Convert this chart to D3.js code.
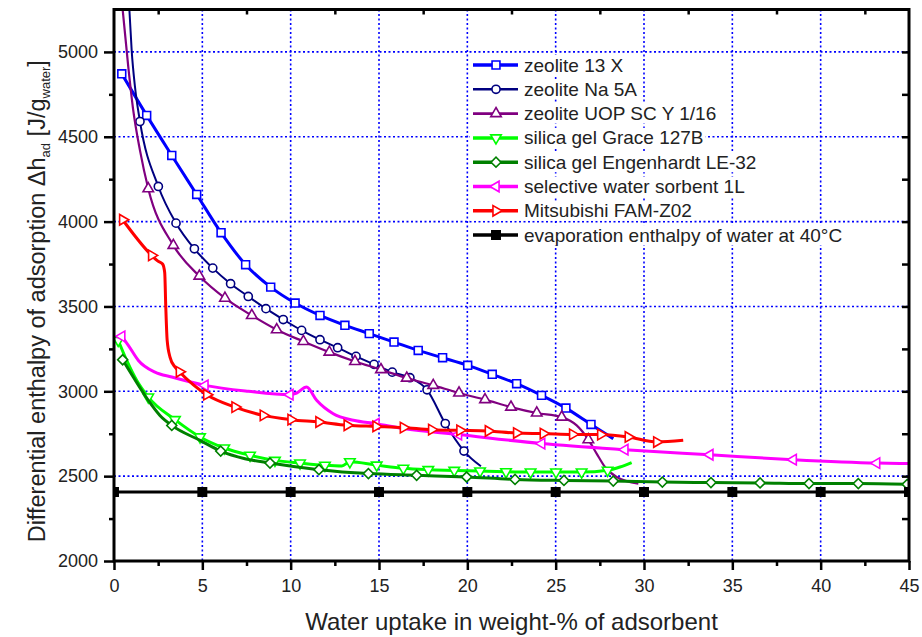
<!DOCTYPE html>
<html>
<head>
<meta charset="utf-8">
<script src="https://cdn.jsdelivr.net/npm/d3@7"></script>
<style>
  body { margin: 0; background: #fff; }
  svg { display: block; font-family: "Liberation Sans", Arial, sans-serif; }
</style>
</head>
<body>
<div id="chart"></div>
<script>
// values: [water uptake %, enthalpy J/g, 1 = drawn with a symbol]
const zeolite13X = [
  [0.44, 4871, 1], [1.85, 4626, 1], [3.27, 4390, 1], [4.68, 4160, 1], [6.06, 3935, 1],
  [7.45, 3746, 1], [8.87, 3614, 1], [10.25, 3520, 1], [11.66, 3447, 1], [13.07, 3389, 1],
  [14.45, 3340, 1], [15.85, 3290, 1], [17.22, 3241, 1], [18.6, 3198, 1], [20.02, 3153, 1],
  [21.41, 3100, 1], [22.79, 3045, 1], [24.2, 2976, 1], [25.58, 2901, 1], [27.0, 2805, 1],
  [28.26, 2721, 0]
];
const zeoliteNa5A = [
  [0.87, 5250, 0], [1.0, 5009, 0], [1.19, 4792, 0], [1.47, 4590, 1], [2.51, 4207, 1],
  [3.51, 3991, 1], [4.55, 3840, 1], [5.59, 3726, 1], [6.6, 3634, 1], [7.6, 3559, 1],
  [8.6, 3487, 1], [9.58, 3423, 1], [10.62, 3359, 1], [11.66, 3304, 1], [12.66, 3257, 1],
  [13.7, 3206, 1], [14.72, 3159, 1], [15.75, 3113, 1], [16.75, 3080, 1], [17.72, 3009, 1],
  [18.75, 2810, 1], [19.81, 2648, 1], [20.77, 2558, 0]
];
const zeoliteUOP = [
  [0.49, 5250, 0], [0.81, 4910, 0], [1.09, 4655, 0], [1.47, 4420, 0], [1.94, 4194, 1],
  [3.36, 3860, 1], [4.83, 3679, 1], [6.28, 3549, 1], [7.8, 3447, 1], [9.21, 3363, 1],
  [10.72, 3294, 1], [12.19, 3231, 1], [13.64, 3176, 1], [15.11, 3128, 1], [16.57, 3078, 1],
  [18.07, 3035, 1], [19.53, 2990, 1], [21.0, 2951, 1], [22.47, 2907, 1], [23.93, 2872, 1],
  [25.34, 2848, 1], [26.19, 2799, 0], [26.85, 2715, 1], [27.32, 2633, 0], [27.79, 2554, 0],
  [28.45, 2495, 0], [29.68, 2456, 0]
];
const grace127B = [
  [0.24, 3300, 1], [0.72, 3182, 0], [1.28, 3065, 0], [1.94, 2966, 1], [3.45, 2833, 1],
  [4.87, 2731, 1], [6.24, 2666, 1], [7.7, 2623, 1], [9.11, 2593, 1], [10.53, 2577, 1],
  [11.94, 2564, 1], [12.9, 2560, 0], [13.35, 2585, 1], [14.87, 2565, 1], [16.38, 2546, 1],
  [17.79, 2538, 1], [19.26, 2534, 1], [20.72, 2530, 1], [22.19, 2526, 1], [23.58, 2524, 1],
  [25.02, 2524, 1], [26.47, 2524, 1], [27.94, 2535, 1], [28.64, 2554, 0], [29.3, 2580, 0]
];
const engenhardtLE32 = [
  [0.49, 3186, 1], [1.09, 3084, 0], [1.94, 2947, 0], [2.6, 2858, 0], [3.27, 2799, 1],
  [4.87, 2711, 0], [6.04, 2648, 1], [7.41, 2603, 0], [8.83, 2577, 1], [11.6, 2538, 1],
  [14.4, 2515, 1], [17.13, 2505, 1], [19.96, 2495, 1], [22.7, 2481, 1], [25.47, 2475, 1],
  [28.26, 2471, 1], [31.04, 2465, 1], [33.79, 2462, 1], [36.57, 2460, 1], [39.34, 2456, 1],
  [42.13, 2456, 1], [44.9, 2452, 1]
];
const sorbent1L = [
  [0.44, 3324, 1], [0.81, 3271, 0], [1.38, 3182, 0], [2.32, 3113, 0], [3.27, 3084, 0],
  [5.15, 3035, 1], [7.6, 3000, 0], [9.96, 2980, 1], [10.34, 2990, 0], [10.9, 3025, 0],
  [11.47, 2947, 0], [12.41, 2868, 0], [13.55, 2829, 0], [14.83, 2809, 1], [16.38, 2780, 0],
  [19.5, 2745, 1], [24.21, 2692, 1], [28.92, 2656, 1], [33.73, 2626, 1], [38.45, 2597, 1],
  [43.17, 2577, 1], [45.0, 2574, 0]
];
const famZ02 = [
  [0.49, 4011, 1], [2.13, 3801, 1], [2.45, 3770, 0], [2.75, 3750, 0], [2.87, 3700, 0],
  [2.93, 3500, 0], [3.01, 3300, 0], [3.17, 3202, 0], [3.45, 3143, 0], [3.7, 3115, 1],
  [5.25, 2980, 1], [6.85, 2907, 1], [8.45, 2858, 1], [10.02, 2833, 1], [11.6, 2819, 1],
  [13.2, 2800, 1], [14.83, 2793, 1], [16.38, 2786, 1], [17.98, 2774, 1], [19.58, 2770, 1],
  [21.19, 2766, 1], [22.79, 2754, 1], [24.3, 2751, 1], [25.96, 2746, 1], [27.55, 2745, 1],
  [29.11, 2731, 1], [30.72, 2701, 1], [32.22, 2711, 0]
];
const evapEnthalpy = 2406; // J/g at 40°C
const evapX = [0, 5, 10, 15, 20, 25, 30, 35, 40, 45];

const xTicks = [0, 5, 10, 15, 20, 25, 30, 35, 40, 45];
const xMinorTicks = [2.5, 7.5, 12.5, 17.5, 22.5, 27.5, 32.5, 37.5, 42.5];
const yTicks = [2000, 2500, 3000, 3500, 4000, 4500, 5000];
const yMinorTicks = [2250, 2750, 3250, 3750, 4250, 4750];
const xGrid = [5, 10, 15, 20, 25, 30, 35, 40];
const yGrid = [2500, 3000, 3500, 4000, 4500, 5000];

const series = [
  { name: "zeolite 13 X", data: zeolite13X, color: "#0000ff", width: 3, symbol: "square" },
  { name: "zeolite Na 5A", data: zeoliteNa5A, color: "#000080", width: 2, symbol: "circle" },
  { name: "zeolite UOP SC Y 1/16", data: zeoliteUOP, color: "#800080", width: 2.2, symbol: "up" },
  { name: "silica gel Grace 127B", data: grace127B, color: "#00ff00", width: 3, symbol: "down" },
  { name: "silica gel Engenhardt LE-32", data: engenhardtLE32, color: "#008000", width: 3, symbol: "diamond" },
  { name: "selective water sorbent 1L", data: sorbent1L, color: "#ff00ff", width: 3, symbol: "left" },
  { name: "Mitsubishi FAM-Z02", data: famZ02, color: "#ff0000", width: 3, symbol: "right" }
];

const width = 922;
const height = 637;
const plotLeft = 114, plotRight = 909, plotTop = 9.5, plotBottom = 561;
const font = "'Liberation Sans', Arial, sans-serif";

const x = d3.scaleLinear().domain([0, 45]).range([plotLeft, plotRight]);
const y = d3.scaleLinear().domain([2000, 5250]).range([plotBottom, plotTop]);

function symbolPath(type) {
  if (type === "square") return { d: d3.symbol(d3.symbolSquare, 62)(), rot: 0 };
  if (type === "filled") return { d: d3.symbol(d3.symbolSquare, 70)(), rot: 0 };
  if (type === "circle") return { d: d3.symbol(d3.symbolCircle, 52)(), rot: 0 };
  if (type === "diamond") return { d: d3.symbol(d3.symbolSquare, 50)(), rot: 45 };
  const tri = d3.symbol(d3.symbolTriangle, 48)();
  const rot = { up: 0, down: 180, left: -90, right: 90 }[type];
  return { d: tri, rot: rot };
}

function drawMarker(g, type, cx, cy, color) {
  const s = symbolPath(type);
  g.append("path")
    .attr("d", s.d)
    .attr("transform", `translate(${cx},${cy}) rotate(${s.rot})`)
    .attr("fill", type === "filled" ? color : "#fff")
    .attr("stroke", color)
    .attr("stroke-width", 1.6);
}

const svg = d3.select("#chart").append("svg")
  .attr("width", width).attr("height", height)
  .attr("viewBox", `0 0 ${width} ${height}`);

svg.append("defs").append("clipPath").attr("id", "plot-clip")
  .append("rect").attr("x", plotLeft).attr("y", plotTop)
  .attr("width", plotRight - plotLeft).attr("height", plotBottom - plotTop);

// grid
const grid = svg.append("g").attr("stroke", "#0000ff").attr("stroke-width", 1.6)
  .attr("stroke-dasharray", "2,2.5");
grid.selectAll("line.gx").data(xGrid).enter().append("line")
  .attr("x1", d => x(d)).attr("x2", d => x(d)).attr("y1", plotTop).attr("y2", plotBottom);
grid.selectAll("line.gy").data(yGrid).enter().append("line")
  .attr("x1", plotLeft).attr("x2", plotRight).attr("y1", d => y(d)).attr("y2", d => y(d));

// curves
const plot = svg.append("g").attr("clip-path", "url(#plot-clip)");
const line = d3.line().x(d => x(d[0])).y(d => y(d[1])).curve(d3.curveMonotoneX);

series.forEach(s => {
  const g = plot.append("g");
  g.append("path").datum(s.data)
    .attr("d", line).attr("fill", "none")
    .attr("stroke", s.color).attr("stroke-width", s.width)
    .attr("stroke-linejoin", "round");
  s.data.filter(d => d[2]).forEach(d => drawMarker(g, s.symbol, x(d[0]), y(d[1]), s.color));
});

// evaporation enthalpy of water
const evap = plot.append("g");
evap.append("line")
  .attr("x1", x(0)).attr("x2", x(45)).attr("y1", y(evapEnthalpy)).attr("y2", y(evapEnthalpy))
  .attr("stroke", "#000").attr("stroke-width", 3);
evapX.forEach(v => drawMarker(evap, "filled", x(v), y(evapEnthalpy), "#000"));

// axes
function styleAxis(g) {
  g.select(".domain").remove();
  g.selectAll("line").attr("stroke", "#000").attr("stroke-width", 2.5);
  g.selectAll("text").attr("font-family", font).attr("font-size", 18).attr("fill", "#222");
}

svg.append("g").attr("transform", `translate(0,${plotBottom})`)
  .call(d3.axisBottom(x).tickValues(xTicks).tickSize(9).tickPadding(9).tickFormat(d3.format("d")))
  .call(styleAxis);
svg.append("g").attr("transform", `translate(0,${plotBottom})`)
  .call(d3.axisBottom(x).tickValues(xMinorTicks).tickSize(5).tickFormat(""))
  .call(styleAxis);
svg.append("g").attr("transform", `translate(0,${plotTop})`)
  .call(d3.axisBottom(x).tickValues(xMinorTicks).tickSize(5).tickFormat(""))
  .call(styleAxis);

svg.append("g").attr("transform", `translate(${plotLeft},0)`)
  .call(d3.axisLeft(y).tickValues(yTicks).tickSize(10).tickPadding(6).tickFormat(d3.format("d")))
  .call(styleAxis);
svg.append("g").attr("transform", `translate(${plotLeft},0)`)
  .call(d3.axisLeft(y).tickValues(yMinorTicks).tickSize(5).tickFormat(""))
  .call(styleAxis);
svg.append("g").attr("transform", `translate(${plotRight},0)`)
  .call(d3.axisLeft(y).tickValues(yTicks.concat(yMinorTicks).filter(v => v > 2000)).tickSize(7).tickFormat(""))
  .call(styleAxis);

// frame
svg.append("rect")
  .attr("x", plotLeft).attr("y", plotTop)
  .attr("width", plotRight - plotLeft).attr("height", plotBottom - plotTop)
  .attr("fill", "none").attr("stroke", "#000").attr("stroke-width", 3);

// axis titles
svg.append("text")
  .attr("x", (plotLeft + plotRight) / 2).attr("y", 630)
  .attr("text-anchor", "middle")
  .attr("font-family", font).attr("font-size", 24).attr("fill", "#222")
  .text("Water uptake in weight-% of adsorbent");

const yTitle = svg.append("text")
  .attr("transform", `translate(45,${(plotTop + plotBottom) / 2 + 16}) rotate(-90)`)
  .attr("text-anchor", "middle")
  .attr("font-family", font).attr("font-size", 23.5).attr("fill", "#222");
yTitle.append("tspan").text("Differential enthalpy of adsorption \u0394h");
yTitle.append("tspan").attr("font-size", 13).attr("dy", 5).text("ad");
yTitle.append("tspan").attr("dy", -5).text(" [J/g");
yTitle.append("tspan").attr("font-size", 13).attr("dy", 5).text("water");
yTitle.append("tspan").attr("dy", -5).text("]");

// legend
const legendRows = series.map(s => ({ name: s.name, color: s.color, width: s.width, symbol: s.symbol }))
  .concat([{ name: "evaporation enthalpy of water at 40\u00b0C", color: "#000", width: 3, symbol: "filled" }]);
const legend = svg.append("g");
legendRows.forEach((r, i) => {
  const cy = 65 + i * 24.3;
  const row = legend.append("g");
  const bg = row.append("rect").attr("fill", "#fff");
  const t = row.append("text")
    .attr("x", 524).attr("y", cy + 6.5)
    .attr("font-family", font).attr("font-size", 19).attr("fill", "#222")
    .text(r.name);
  const tw = t.node().getComputedTextLength();
  bg.attr("x", 470).attr("y", cy - 10).attr("width", 524 + tw - 470 + 2).attr("height", 20);
  row.append("line").attr("x1", 473).attr("x2", 518).attr("y1", cy).attr("y2", cy)
    .attr("stroke", r.color).attr("stroke-width", r.width + 0.5);
  drawMarker(row, r.symbol, 496, cy, r.color);
});
</script>
</body>
</html>
